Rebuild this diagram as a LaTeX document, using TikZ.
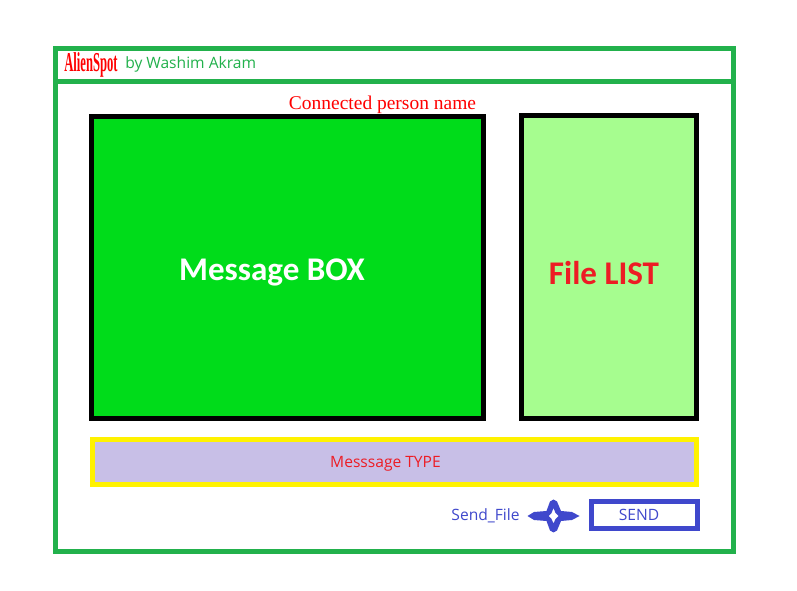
\documentclass[tikz,border=0pt]{standalone}
\usepackage{fontspec}
\setmainfont{Open Sans}
\newfontfamily\serifface{Liberation Serif}
\newfontfamily\labelface{Carlito}
\definecolor{framegreen}{HTML}{22B14C}
\definecolor{boxgreen}{HTML}{00DC1A}
\definecolor{lightgreen}{HTML}{A6FD8F}
\definecolor{alertred}{HTML}{ED1C24}
\definecolor{lavender}{HTML}{C8BFE7}
\definecolor{signalyellow}{HTML}{FFF200}
\definecolor{sendblue}{HTML}{3F48CC}
\tikzset{
  panel/.style={line width=3.75pt, line join=miter, inner sep=0pt, outer sep=0pt},
  small/.style={font=\fontsize{11.7}{13}\selectfont, inner sep=0pt, anchor=center},
  big/.style={font=\labelface\bfseries\fontsize{24.8}{29}\selectfont, inner sep=0pt, anchor=center}
}
\begin{document}
\begin{tikzpicture}[x=0.75pt,y=-0.75pt]
\useasboundingbox (0,0) rectangle (797,591);
\fill[white] (0,0) rectangle (797,591);
% outer frame
\draw[framegreen,line width=3.5pt] (55.5,48.5) rectangle (733.5,551.5);
\draw[framegreen,line width=4pt] (55.5,81.3) -- (733.5,81.3);
% title
\node[inner sep=0pt,text=red] (logo) at (91,65) {\serifface\bfseries\fontsize{15.5}{18}\selectfont\scalebox{0.61}[1.32]{AlienSpot}};
\node[small,text=framegreen,anchor=west] (by) at (125,64.5) {by Washim Akram};
\node[inner sep=0pt,text=red] (person) at (382.5,105) {\serifface\fontsize{14.6}{17}\selectfont Connected person name};
% panels
\node[panel,draw=black,fill=boxgreen,minimum width=392*0.75pt,minimum height=302*0.75pt] (msg) at (287.5,267.5) {};
\node[big,text=white] (msgt) at (272,272) {Message BOX};
\node[panel,draw=black,fill=lightgreen,minimum width=175*0.75pt,minimum height=303*0.75pt] (file) at (609,267) {};
\node[big,text=alertred] (filet) at (604,273) {File LIST};
\node[panel,draw=signalyellow,fill=lavender,minimum width=604*0.75pt,minimum height=45*0.75pt] (type) at (394.5,462) {};
\node[small,text=alertred] (typet) at (385.5,464) {Messsage TYPE};
% send row
\node[small,text=sendblue] (sf) at (485.5,515.5) {Send\_File};
\fill[sendblue,even odd rule]
  (527.5,516) -- (534,512) -- (546.5,511) -- (550,501.5) -- (553.5,499.5) -- (557,501.5) -- (561,511) -- (572,512) -- (579.5,516) -- (572,520) -- (561,521) -- (557,530.5) -- (553.5,532.5) -- (550,530.5) -- (546.5,521) -- (534,520) -- cycle
  (553.5,508) -- (555.5,513) -- (558.5,516) -- (555.5,519) -- (553.5,523.5) -- (551.5,519) -- (548.5,516) -- (551.5,513) -- cycle;
\node[panel,draw=sendblue,fill=white,minimum width=106*0.75pt,minimum height=27*0.75pt] (send) at (644.5,515) {};
\node[small,text=sendblue] (sendt) at (639,514.5) {SEND};
\end{tikzpicture}
\end{document}
